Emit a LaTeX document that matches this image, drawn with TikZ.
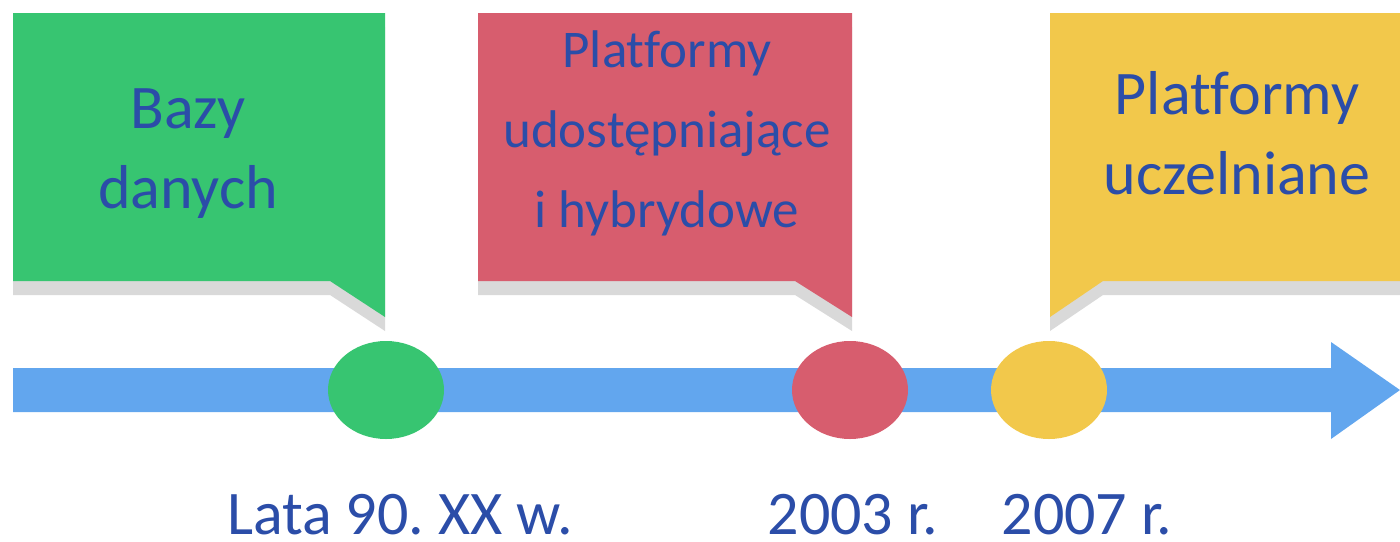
\documentclass[tikz,border=0pt]{standalone}
\usepackage{fontspec}
\setmainfont{Carlito}[Ligatures={NoCommon}]
\usetikzlibrary{shapes.geometric}
\definecolor{cgreen}{HTML}{37C571}
\definecolor{cred}{HTML}{D75D6E}
\definecolor{cyellow}{HTML}{F2C84B}
\definecolor{cblue}{HTML}{62A6EE}
\definecolor{ctext}{HTML}{2B4DA8}
\definecolor{cshadow}{HTML}{D9D9D9}
\frenchspacing
\begin{document}
\begin{tikzpicture}[x=1pt,y=-1pt,
  txt/.style={text=ctext, font=\fontsize{62}{80}\selectfont, align=center, inner sep=0pt, anchor=base},
  dot/.style={ellipse, minimum width=116pt, minimum height=98pt, inner sep=0pt},
  lbl/.style={text=ctext, font=\fontsize{62}{74}\selectfont\frenchspacing, anchor=base, inner sep=0pt, text depth=0pt}]
\useasboundingbox (0,0) rectangle (1400,541);
% shadows
\fill[cshadow] (13,27) -- (385,27) -- (385,331) -- (330,295) -- (13,295) -- cycle;
\fill[cshadow] (478,27) -- (852,27) -- (852,331) -- (795,295) -- (478,295) -- cycle;
\fill[cshadow] (1050,27) -- (1410,27) -- (1410,295) -- (1103,295) -- (1050,331) -- cycle;
% callouts
\fill[cgreen] (13,13) -- (385,13) -- (385,317) -- (330,281) -- (13,281) -- cycle;
\fill[cred] (478,13) -- (852,13) -- (852,317) -- (795,281) -- (478,281) -- cycle;
\fill[cyellow] (1050,13) -- (1410,13) -- (1410,281) -- (1103,281) -- (1050,317) -- cycle;
% timeline arrow
\fill[cblue] (13,368) -- (1331,368) -- (1331,342) -- (1400,390) -- (1331,439) -- (1331,412) -- (13,412) -- cycle;
% dots
\node[dot, fill=cgreen] (d1) at (386,390) {};
\node[dot, fill=cred] (d2) at (850,390) {};
\node[dot, fill=cyellow] (d3) at (1049,390) {};
% callout texts (anchored at the baseline of the last line)
\node[txt] (t1) at (188,208) {Bazy\\danych};
\node[txt, font=\fontsize{53}{80}\selectfont] (t2) at (667,227) {Platformy\\udostępniające\\i hybrydowe};
\node[txt] (t3) at (1237,194) {Platformy\\uczelniane};
% labels
\node[lbl] (l1) at (400,534) {Lata 90. XX w.};
\node[lbl] (l2) at (853,534) {2003 r.};
\node[lbl] (l3) at (1087,534) {2007 r.};
\end{tikzpicture}
\end{document}
